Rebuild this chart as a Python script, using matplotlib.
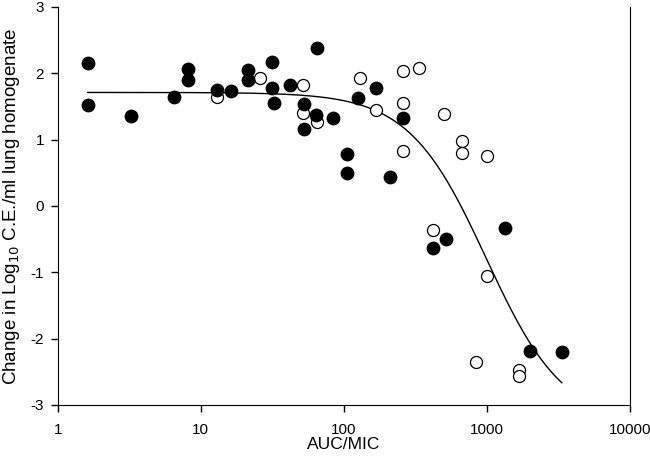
import numpy as np
import matplotlib
matplotlib.use("Agg")
import matplotlib.pyplot as plt

plt.rcParams['font.family'] = ['Liberation Sans', 'DejaVu Sans']
plt.rcParams['axes.unicode_minus'] = False

# filled circles
filled_x = [1.62, 1.62, 3.24, 6.47, 8.1, 8.1, 12.9, 16.2, 21.3, 21.3, 31.4, 31.4,
            32.4, 41.9, 52.5, 52.5, 64.8, 63.7, 83.8, 105, 105, 125, 167, 210,
            259, 419, 517, 1336, 1999, 3345]
filled_y = [2.16, 1.52, 1.36, 1.64, 2.07, 1.89, 1.75, 1.73, 2.05, 1.90, 2.17, 1.78,
            1.55, 1.82, 1.54, 1.16, 2.38, 1.37, 1.33, 0.78, 0.50, 1.63, 1.78, 0.44,
            1.33, -0.63, -0.50, -0.33, -2.19, -2.20]

# open circles
open_x = [12.9, 25.9, 51.7, 51.7, 64.8, 129, 167, 259, 259, 259, 334, 500,
          669, 669, 1000, 419, 1000, 838, 1675, 1675]
open_y = [1.64, 1.93, 1.82, 1.40, 1.27, 1.93, 1.45, 2.04, 1.55, 0.83, 2.08, 1.39,
          0.98, 0.80, 0.75, -0.36, -1.06, -2.35, -2.47, -2.56]

# fitted sigmoid Emax model
e0, emax, ec50, hill = 1.71, 5.0, 990.0, 1.6
curve_range = (1.62, 3345)

fig = plt.figure(figsize=(6.5, 4.57), dpi=100)
ax = fig.add_axes([0.089, 0.114, 0.88, 0.871])

xc = np.logspace(np.log10(curve_range[0]), np.log10(curve_range[1]), 300)
yc = e0 - emax * xc**hill / (ec50**hill + xc**hill)
ax.plot(xc, yc, color='black', lw=1.0, zorder=1)

ax.scatter(filled_x, filled_y, s=80, color='black', zorder=3)
ax.scatter(open_x, open_y, s=75, facecolor='white', edgecolor='black',
           linewidth=0.9, zorder=2)

ax.set_xscale('log')
ax.set_xlim(1, 10000)
ax.set_ylim(-3, 3)
ax.set_xticks([1, 10, 100, 1000, 10000])
ax.set_xticklabels(['1', '10', '100', '1000', '10000'])
ax.xaxis.set_minor_locator(matplotlib.ticker.NullLocator())
ax.set_yticks(range(-3, 4))
ax.spines['top'].set_visible(False)
ax.tick_params(direction='out', length=5, width=1, labelsize=11)
ax.tick_params(axis='x', pad=8)
ax.tick_params(axis='y', right=False, pad=5)

ax.set_xlabel('AUC/MIC', fontsize=12.5, labelpad=0)
ax.set_ylabel('Change in Log$_{10}$ C.E./ml lung homogenate', fontsize=13.5,
              labelpad=6)

fig.savefig('out.png', dpi=100)
